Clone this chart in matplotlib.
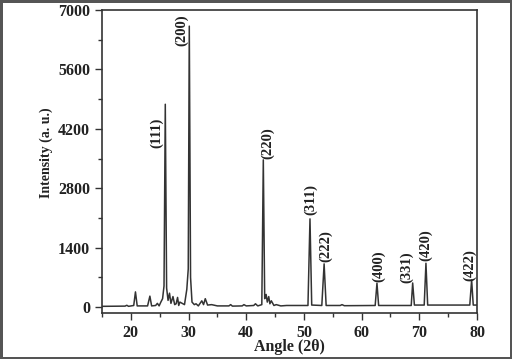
import numpy as np
import matplotlib.pyplot as plt
from matplotlib.ticker import MultipleLocator

# XRD trace (2theta, intensity)
angle = [15.0, 19.0, 19.3, 19.6, 20.5, 20.8, 21.1, 22.9, 23.3, 23.6, 24.3, 24.6, 24.9,
         25.2, 25.5, 25.75, 25.97, 26.2, 26.45, 26.7, 26.95, 27.3, 27.6, 27.85, 28.1,
         28.3, 28.5, 29.3, 29.7, 29.95, 30.13, 30.35, 30.6, 31.0, 31.3, 31.7, 32.3,
         32.6, 32.9, 33.3, 34.0, 35.0, 37.0, 37.3, 37.6, 39.3, 39.6, 40.0, 41.3, 41.6,
         42.0, 42.7, 42.96, 43.2, 43.45, 43.65, 43.9, 44.1, 44.35, 44.8, 45.2, 46.0,
         47.0, 50.7, 51.05, 51.35, 53.1, 53.5, 53.85, 56.3, 56.6, 57.0, 62.35, 62.66,
         62.95, 68.6, 68.85, 69.15, 70.85, 71.15, 71.45, 78.75, 79.07, 79.35, 80.0]
counts = [20, 25, 45, 20, 40, 360, 30, 30, 260, 30, 40, 90, 30,
          120, 200, 500, 4780, 450, 160, 330, 90, 250, 60, 80, 230,
          40, 120, 60, 420, 900, 6620, 700, 120, 60, 80, 30, 150,
          60, 200, 50, 60, 30, 30, 60, 25, 30, 60, 30, 40, 80,
          30, 60, 3470, 200, 300, 120, 250, 80, 150, 40, 60, 30,
          40, 40, 2080, 50, 40, 1020, 40, 40, 60, 35, 40, 565,
          40, 40, 570, 50, 50, 1035, 50, 50, 640, 50, 50]

hkl = ['(111)', '(200)', '(220)', '(311)', '(222)', '(400)', '(331)', '(420)', '(422)']
hkl_x = [24.5, 28.8, 43.75, 51.2, 53.8, 62.9, 67.8, 71.15, 78.75]
hkl_y = [4100, 6530, 3870, 2525, 1445, 970, 935, 1450, 1000]

serif = 'Liberation Serif'

fig = plt.figure(figsize=(5.12, 3.59), dpi=100)
fig.patch.set_edgecolor('#555555')
fig.patch.set_linewidth(2.5)
ax = fig.add_axes([102 / 512, 1 - 312.7 / 359, 375 / 512, 302.7 / 359])

ax.plot(angle, counts, '-', color='#333333', lw=1.1)

for lab, xx, yy in zip(hkl, hkl_x, hkl_y):
    ax.text(xx, yy, lab, rotation=90, ha='center', va='center',
            fontsize=10.5, fontweight='bold', family=serif, color='#222222')

ax.set_xlim(15, 80)
ax.set_ylim(-130, 7000)
ax.xaxis.set_major_locator(MultipleLocator(10))
ax.xaxis.set_minor_locator(MultipleLocator(5))
ax.yaxis.set_major_locator(MultipleLocator(1400))
ax.yaxis.set_minor_locator(MultipleLocator(700))
ax.set_xticks(range(20, 81, 10))
ax.tick_params(which='major', direction='out', length=5, width=1, colors='#333333')
ax.tick_params(which='minor', direction='out', length=3, width=1, colors='#333333')
for t in ax.get_xticklabels() + ax.get_yticklabels():
    t.set_fontfamily(serif)
    t.set_fontweight('bold')
    t.set_fontsize(11.5)
    t.set_color('#222222')

for s in ax.spines.values():
    s.set_linewidth(1.2)
    s.set_color('#333333')

ax.set_xlabel('Angle (2θ)', fontsize=11.5, fontweight='bold', family=serif, color='#222222')
ax.set_ylabel('Intensity (a. u.)', fontsize=10, fontweight='bold', family=serif, color='#222222')
ax.xaxis.set_label_coords(0.5, -0.088)
ax.yaxis.set_label_coords(-0.13, 0.528)

fig.savefig('out.png', dpi=100)
